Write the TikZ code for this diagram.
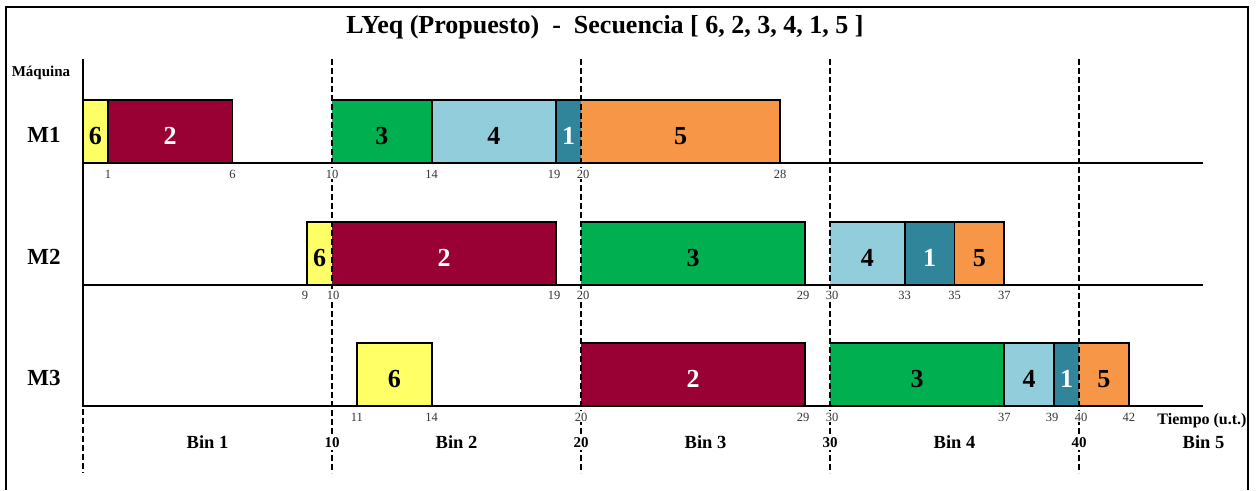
\documentclass[tikz,border=0pt]{standalone}
\usepackage{fontspec}
\setmainfont{Liberation Serif}

\definecolor{jobyellow}{RGB}{255,255,102}
\definecolor{jobred}{RGB}{153,0,51}
\definecolor{jobgreen}{RGB}{0,176,80}
\definecolor{joblight}{RGB}{146,205,220}
\definecolor{jobteal}{RGB}{49,133,155}
\definecolor{joborange}{RGB}{247,150,70}
\definecolor{ticktext}{RGB}{51,51,51}

% time t -> horizontal position (pt)
\newcommand\tx[1]{83+24.9*(#1)}

% one job: name, start, end, row top, fill, text colour, label
\newcommand\job[7]{%
  \node[jobbox, fill=#5, text=#6, minimum width={24.9pt*(#3-#2)}]
    (#1) at ({\tx{#2}},#4) {#7};}

\begin{document}
\begin{tikzpicture}[x=1pt,y=-1pt,
  jobbox/.style={anchor=north west, inner sep=0pt, outer sep=0pt,
    minimum height=63pt, text height=25pt, text depth=0pt,
    font=\bfseries\fontsize{26}{26}\selectfont},
  boxedge/.style={line width=1.8pt, line join=miter},
  axisline/.style={line width=2.4pt},
  binline/.style={line width=1.7pt, dash pattern=on 5.5pt off 3.5pt},
  tick/.style={anchor=base, inner sep=1.2pt, fill=white, text=ticktext,
    font=\fontsize{12.5}{12.5}\selectfont},
  machine/.style={anchor=base, inner sep=0pt,
    font=\bfseries\fontsize{23}{23}\selectfont},
  binlabel/.style={anchor=base, inner sep=0pt,
    font=\bfseries\fontsize{18.5}{18.5}\selectfont},
  binmark/.style={anchor=base, inner sep=3pt, fill=white,
    font=\bfseries\fontsize{15}{15}\selectfont},
]
\useasboundingbox (0,0) rectangle (1257,490);

% outer frame
\coordinate (fbl) at (6,490);
\coordinate (ftl) at (6,7);
\coordinate (ftr) at (1248,7);
\coordinate (fbr) at (1248,490);
\draw[line width=1.5pt] (fbl) -- (ftl) -- (ftr) -- (fbr);

% title
\node[anchor=base, inner sep=0pt, font=\bfseries\fontsize{26}{26}\selectfont]
  (title) at (605,33) {LYeq (Propuesto)~~-~~Secuencia [ 6, 2, 3, 4, 1, 5 ]};

% machine labels
\node[anchor=base, inner sep=0pt, font=\bfseries\fontsize{15}{15}\selectfont]
  (maq) at (41,76) {Máquina};
\node[machine] (m1) at (44,142) {M1};
\node[machine] (m2) at (44,264) {M2};
\node[machine] (m3) at (44,385) {M3};

% ---- M1 jobs ----
\job{a6}{0}{1}{100}{jobyellow}{black}{6}
\job{a2}{1}{6}{100}{jobred}{white}{2}
\job{a3}{10}{14}{100}{jobgreen}{black}{3}
\job{a4}{14}{19}{100}{joblight}{black}{4}
\job{a1}{19}{20}{100}{jobteal}{white}{1}
\job{a5}{20}{28}{100}{joborange}{black}{5}
\draw[boxedge] (a6.south west) |- (a6.north east) -- (a6.south east);
\draw[boxedge] (a2.north west) -- (a2.north east) -- (a2.south east);
\draw[boxedge] (a3.north west) -- (a3.north east) -- (a3.south east);
\draw[boxedge] (a4.north west) -- (a4.north east) -- (a4.south east);
\draw[boxedge] (a1.north west) -- (a1.north east);
\draw[boxedge] (a5.north west) -- (a5.north east) -- (a5.south east);

% ---- M2 jobs ----
\job{b6}{9}{10}{222}{jobyellow}{black}{6}
\job{b2}{10}{19}{222}{jobred}{white}{2}
\job{b3}{20}{29}{222}{jobgreen}{black}{3}
\job{b4}{30}{33}{222}{joblight}{black}{4}
\job{b1}{33}{35}{222}{jobteal}{white}{1}
\job{b5}{35}{37}{222}{joborange}{black}{5}
\draw[boxedge] (b6.south west) |- (b6.north east);
\draw[boxedge] (b2.north west) -- (b2.north east) -- (b2.south east);
\draw[boxedge] (b3.north west) -- (b3.north east) -- (b3.south east);
\draw[boxedge] (b4.north west) -- (b4.north east) -- (b4.south east);
\draw[boxedge] (b1.north west) -- (b1.north east) -- (b1.south east);
\draw[boxedge] (b5.north west) -- (b5.north east) -- (b5.south east);

% ---- M3 jobs ----
\job{c6}{11}{14}{343}{jobyellow}{black}{6}
\job{c2}{20}{29}{343}{jobred}{white}{2}
\job{c3}{30}{37}{343}{jobgreen}{black}{3}
\job{c4}{37}{39}{343}{joblight}{black}{4}
\job{c1}{39}{40}{343}{jobteal}{white}{1}
\job{c5}{40}{42}{343}{joborange}{black}{5}
\draw[boxedge] (c6.south west) |- (c6.north east) -- (c6.south east);
\draw[boxedge] (c2.north west) -- (c2.north east) -- (c2.south east);
\draw[boxedge] (c3.north west) -- (c3.north east) -- (c3.south east);
\draw[boxedge] (c4.north west) -- (c4.north east) -- (c4.south east);
\draw[boxedge] (c1.north west) -- (c1.north east);
\draw[boxedge] (c5.north west) -- (c5.north east) -- (c5.south east);

% ---- axes ----
\coordinate (ytop) at ({\tx{0}},59);
\coordinate (y3) at ({\tx{0}},406);
\coordinate (r1l) at ({\tx{0}},163);
\coordinate (r1r) at (1203,163);
\coordinate (r2l) at ({\tx{0}},285);
\coordinate (r2r) at (1203,285);
\coordinate (r3r) at (1203,406);
\draw[axisline] (ytop) -- (y3) -- (r3r);
\draw[axisline] (r1l) -- (r1r);
\draw[axisline] (r2l) -- (r2r);

% ---- bin limits ----
\coordinate (d0t) at ({\tx{0}},409);
\coordinate (d0b) at ({\tx{0}},473);
\draw[binline] (d0t) -- (d0b);
\foreach \t in {10,20,30,40} {
  \coordinate (d\t t) at ({\tx{\t}},59);
  \coordinate (d\t b) at ({\tx{\t}},473);
  \draw[binline] (d\t t) -- (d\t b);
}

% ---- time marks ----
\node[tick] (ta1)  at ({\tx{1}},178) {1};
\node[tick] (ta6)  at ({\tx{6}},178) {6};
\node[tick] (ta10) at ({\tx{10}},178) {10};
\node[tick] (ta14) at ({\tx{14}},178) {14};
\node[tick] (ta19) at ({\tx{19}-2},178) {19};
\node[tick] (ta20) at ({\tx{20}+2},178) {20};
\node[tick] (ta28) at ({\tx{28}},178) {28};

\node[tick] (tb9)  at ({\tx{9}-2},299) {9};
\node[tick] (tb10) at ({\tx{10}+1},299) {10};
\node[tick] (tb19) at ({\tx{19}-2},299) {19};
\node[tick] (tb20) at ({\tx{20}+2},299) {20};
\node[tick] (tb29) at ({\tx{29}-2},299) {29};
\node[tick] (tb30) at ({\tx{30}+2},299) {30};
\node[tick] (tb33) at ({\tx{33}},299) {33};
\node[tick] (tb35) at ({\tx{35}},299) {35};
\node[tick] (tb37) at ({\tx{37}},299) {37};

\node[tick] (tc11) at ({\tx{11}},421) {11};
\node[tick] (tc14) at ({\tx{14}},421) {14};
\node[tick] (tc20) at ({\tx{20}},421) {20};
\node[tick] (tc29) at ({\tx{29}-2},421) {29};
\node[tick] (tc30) at ({\tx{30}+2},421) {30};
\node[tick] (tc37) at ({\tx{37}},421) {37};
\node[tick] (tc39) at ({\tx{39}-2},421) {39};
\node[tick] (tc40) at ({\tx{40}+2},421) {40};
\node[tick] (tc42) at ({\tx{42}},421) {42};

\node[anchor=base, inner sep=0pt, font=\bfseries\fontsize{16}{16}\selectfont]
  (tiempo) at (1202,424) {Tiempo (u.t.)};

% ---- bins ----
\node[binlabel] (bin1) at ({\tx{5}},448) {Bin 1};
\node[binlabel] (bin2) at ({\tx{15}},448) {Bin 2};
\node[binlabel] (bin3) at ({\tx{25}},448) {Bin 3};
\node[binlabel] (bin4) at ({\tx{35}},448) {Bin 4};
\node[binlabel] (bin5) at ({\tx{45}},448) {Bin 5};
\node[binmark] (bm10) at ({\tx{10}},447) {10};
\node[binmark] (bm20) at ({\tx{20}},447) {20};
\node[binmark] (bm30) at ({\tx{30}},447) {30};
\node[binmark] (bm40) at ({\tx{40}},447) {40};
\end{tikzpicture}
\end{document}
